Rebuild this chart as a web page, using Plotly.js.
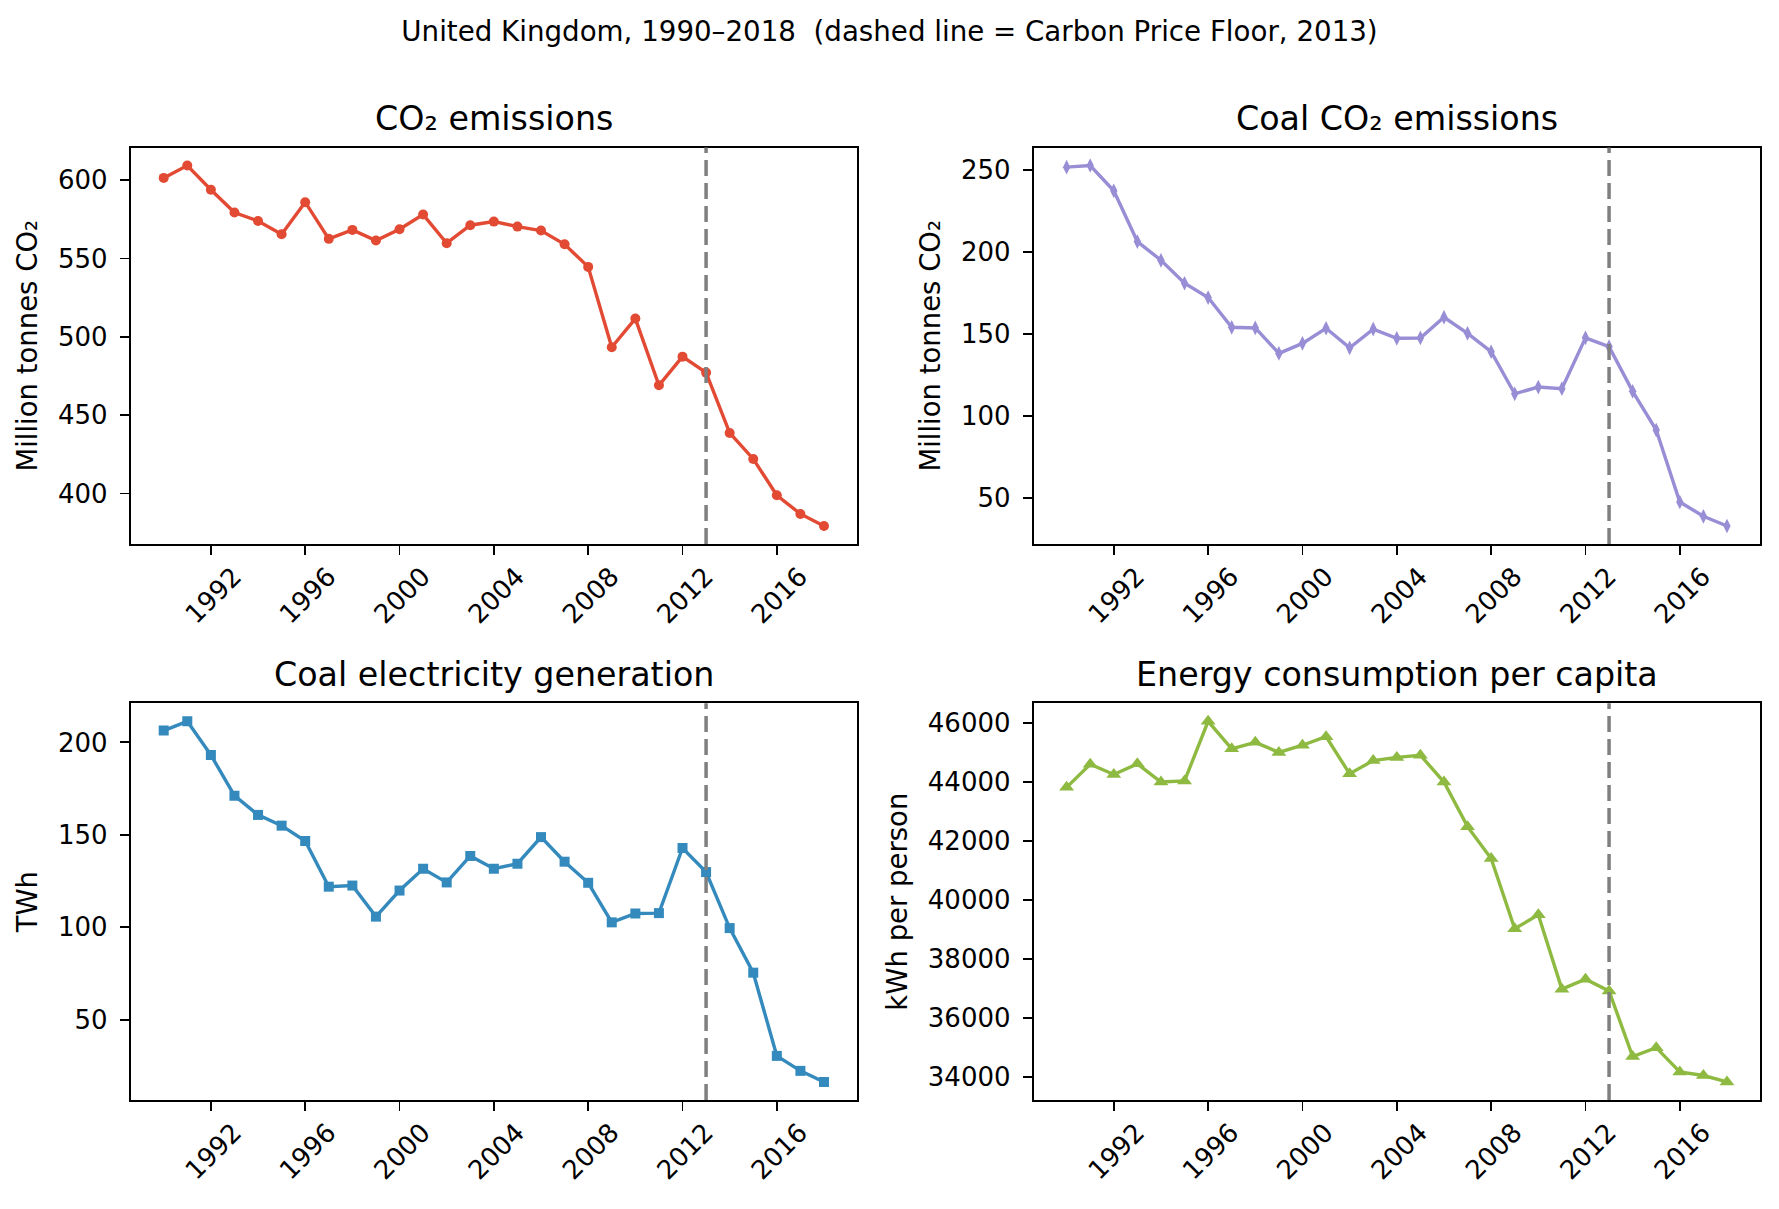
<!DOCTYPE html>
<html>
<head>
<meta charset="utf-8">
<script src="https://cdn.plot.ly/plotly-3.0.1.min.js"></script>
<style>html,body{margin:0;padding:0;background:#fff;}#chart{width:1779px;height:1209px;}</style>
</head>
<body>
<div id="chart"></div>
<script>
// ---- data ----
const years = [1990,1991,1992,1993,1994,1995,1996,1997,1998,1999,2000,2001,2002,2003,2004,2005,2006,2007,2008,2009,2010,2011,2012,2013,2014,2015,2016,2017,2018];
const co2Emissions = [601.5,609.4,593.9,579.4,574.0,565.5,586.0,562.6,568.3,561.5,568.7,578.1,559.8,571.3,573.6,570.4,567.9,559.1,544.7,493.4,511.7,469.1,487.4,477.2,438.7,422.1,398.9,387.0,379.3];
const coalCo2Emissions = [251.6,252.6,237.2,206.3,194.9,180.9,172.2,154.1,153.7,138.2,144.3,153.5,141.6,153.0,147.4,147.6,160.2,150.4,139.2,113.6,117.7,116.7,147.7,142.3,115.1,91.5,47.7,39.0,33.1];
const coalElectricity = [206.4,211.4,193.2,171.2,160.8,155.0,146.7,122.0,122.6,105.8,119.9,131.7,124.3,138.6,131.7,134.4,148.8,135.5,124.1,102.7,107.5,107.7,142.9,129.9,99.6,75.5,30.5,22.4,16.4];
const energyPerCapita = [43810,44596,44246,44608,43991,44028,46048,45117,45335,44996,45238,45528,44270,44717,44826,44899,43991,42479,41402,39018,39490,36973,37312,36913,34687,34989,34166,34045,33827];
const policyYear = 2013;
const xTickVals = [1992,1996,2000,2004,2008,2012,2016];
const panelTitles = ["CO\u2082 emissions","Coal CO\u2082 emissions","Coal electricity generation","Energy consumption per capita"];
const yAxisTitles = ["Million tonnes CO\u2082","Million tonnes CO\u2082","TWh","kWh per person"];
const yTickSteps = [50,50,50,2000];
const suptitle = "United Kingdom, 1990\u20132018 \u00a0(dashed line = Carbon Price Floor, 2013)";

// ---- styling ----
const FONT = "DejaVu Sans";
const colors = ["#E24A33","#988ED5","#348ABD","#8EBA42"];
const symbols = ["circle","diamond-tall","square","triangle-up"];
const msizes = [10,10.5,10,13];
const series = [co2Emissions, coalCo2Emissions, coalElectricity, energyPerCapita];

function padRange(arr){
  const mn = Math.min(...arr), mx = Math.max(...arr), p = (mx-mn)*0.05;
  return [mn-p, mx+p];
}
const W = 1779, H = 1209;
const xDomains = [[130.7/W, 857/W],[1033.6/W, 1760/W]];
const yDomains = [[1-544/H, 1-147.5/H],[1-1100/H, 1-703.3/H]];

const traces = [];
const layout = {
  width: W, height: H,
  margin: {l:0, r:0, t:0, b:0},
  paper_bgcolor: "#fff", plot_bgcolor: "#fff",
  showlegend: false,
  font: {family: FONT, size: 26, color: "#000"},
  title: {text: suptitle, font: {family: FONT, size: 27.7, color: "#000"}, x: 0.5, xanchor: "center", y: 1-31.5/H, yanchor: "middle", yref: "container"},
  annotations: [],
  shapes: []
};

series.forEach((vals, i) => {
  const n = i+1;
  const xa = n === 1 ? "x" : "x"+n;
  const ya = n === 1 ? "y" : "y"+n;
  const col = i % 2, row = Math.floor(i/2);
  traces.push({
    x: years, y: vals, xaxis: xa, yaxis: ya,
    type: "scatter", mode: "lines+markers",
    line: {color: colors[i], width: 3.4},
    marker: {color: colors[i], symbol: symbols[i], size: msizes[i], line: {width: 0}},
    hoverinfo: "x+y"
  });
  const axCommon = {
    showline: true, mirror: true, linecolor: "#000", linewidth: 1.85,
    ticks: "outside", ticklen: 9, tickwidth: 1.85, tickcolor: "#000",
    showgrid: false, zeroline: false, automargin: false,
    tickfont: {family: FONT, size: 26, color: "#000"}
  };
  layout["xaxis"+(n===1?"":n)] = Object.assign({}, axCommon, {
    domain: xDomains[col], anchor: ya,
    range: padRange(years),
    tickmode: "array", tickvals: xTickVals, ticktext: xTickVals.map(String),
    tickangle: -45, ticklabelshift: 23, ticklabelstandoff: -4
  });
  layout["yaxis"+(n===1?"":n)] = Object.assign({}, axCommon, {
    domain: yDomains[row], anchor: xa,
    range: padRange(vals),
    tick0: 0, dtick: yTickSteps[i], tickformat: "d",
    ticklabelstandoff: 7,
    title: {text: yAxisTitles[i], font: {family: FONT, size: 27.5, color: "#000"}, standoff: 12}
  });
  layout.annotations.push({
    text: panelTitles[i], xref: xa+" domain", yref: ya+" domain",
    x: 0.5, y: 1, xanchor: "center", yanchor: "bottom", yshift: 7,
    showarrow: false, font: {family: FONT, size: 33.3, color: "#000"}
  });
  layout.shapes.push({
    type: "line", xref: xa, yref: ya+" domain",
    x0: policyYear, x1: policyYear, y0: 0, y1: 1,
    line: {color: "#7f7f7f", width: 3.5, dash: "16px,7px"}
  });
});

Plotly.newPlot("chart", traces, layout, {displayModeBar: false, staticPlot: true});
</script>
</body>
</html>
